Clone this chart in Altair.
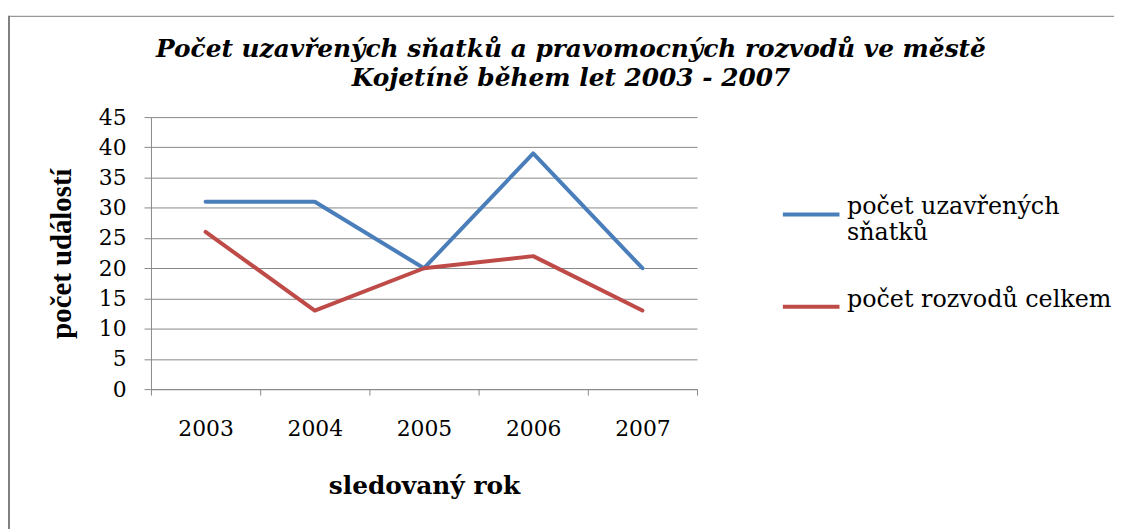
import altair as alt
import pandas as pd

years = ["2003", "2004", "2005", "2006", "2007"]
snatky = [31, 31, 20, 39, 20]
rozvody = [26, 13, 20, 22, 13]
series_names = ["počet uzavřených|sňatků", "počet rozvodů celkem"]
colors = ["#4A7EBB", "#BE4B48"]

rows = []
for y, v in zip(years, snatky):
    rows.append({"rok": y, "hodnota": v, "serie": series_names[0]})
for y, v in zip(years, rozvody):
    rows.append({"rok": y, "hodnota": v, "serie": series_names[1]})
df = pd.DataFrame(rows)

W, H = 550, 274
PAD_L, PAD_T = 144, 108

lines = alt.Chart(df).mark_line(strokeWidth=4, strokeCap="round", strokeJoin="round").encode(
    x=alt.X("rok:N", sort=years, scale=alt.Scale(paddingInner=0, paddingOuter=0),
            axis=alt.Axis(title="sledovaný rok", labelAngle=0, tickBand="extent",
                          labelFont="DejaVu Serif", labelFontSize=22, labelColor="#000",
                          labelPadding=24, tickSize=6, tickColor="#888", domainColor="#888",
                          titleFont="DejaVu Serif", titleFontSize=25, titleFontWeight="bold",
                          titleColor="#000", titlePadding=34, grid=False)),
    y=alt.Y("hodnota:Q", scale=alt.Scale(domain=[0, 45]),
            axis=alt.Axis(title="počet událostí", values=list(range(0, 50, 5)),
                          labelFont="DejaVu Serif", labelFontSize=22, labelColor="#000",
                          labelPadding=18, tickSize=7, tickColor="#888", domainColor="#888",
                          gridColor="#888", gridOpacity=1,
                          titleFont="Liberation Serif", titleFontSize=29, titleFontWeight="bold",
                          titleColor="#000", titlePadding=22)),
    color=alt.Color("serie:N", sort=series_names,
                    scale=alt.Scale(domain=series_names, range=colors),
                    legend=alt.Legend(title=None, orient="none", legendX=634, legendY=67,
                                      symbolType="stroke", symbolStrokeWidth=4, symbolSize=3250,
                                      labelExpr="split(datum.label, '|')",
                                      labelFont="DejaVu Serif", labelFontSize=24, labelColor="#000",
                                      labelLimit=400, rowPadding=31, labelOffset=5,
                                      labelBaseline="alphabetic")),
)

frame = alt.Chart(pd.DataFrame({"a": [0]})).mark_rect(
    fill=None, stroke="#808080", strokeWidth=1
).encode(x=alt.value(-PAD_L + 1), y=alt.value(-PAD_T + 6.5),
         x2=alt.value(2000), y2=alt.value(2000))
frame_left = alt.Chart(pd.DataFrame({"a": [0]})).mark_rule(
    stroke="#808080", strokeWidth=3
).encode(x=alt.value(-PAD_L + 0.5), y=alt.value(-PAD_T + 6), y2=alt.value(2000))

chart = alt.layer(frame, frame_left, lines).properties(
    width=W, height=H,
    title=alt.TitleParams(
        ["Počet uzavřených sňatků a pravomocných rozvodů ve městě",
         "Kojetíně během let 2003 - 2007"],
        font="DejaVu Serif", fontSize=25, fontStyle="italic", fontWeight="bold",
        color="#000", anchor="middle", frame="group", dx=148, dy=77, offset=0, lineHeight=29),
    autosize=alt.AutoSizeParams(type="none"),
    padding={"left": PAD_L, "top": PAD_T, "right": 420, "bottom": 140},
).configure_view(stroke=None)

chart.save("out.html", embed_options={"renderer": "svg", "actions": False})
